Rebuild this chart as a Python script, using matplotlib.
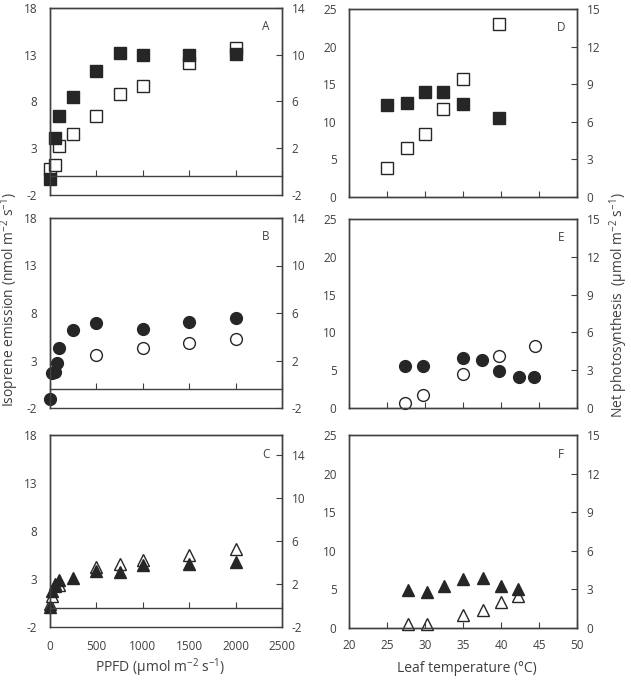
import matplotlib
matplotlib.use('Agg')
import matplotlib.pyplot as plt

plt.rcParams['font.family'] = ['Open Sans', 'DejaVu Sans']
plt.rcParams['mathtext.fontset'] = 'custom'
plt.rcParams['mathtext.rm'] = 'Open Sans'
plt.rcParams['mathtext.it'] = 'Open Sans:italic'
plt.rcParams['axes.unicode_minus'] = False
plt.rcParams['font.size'] = 8.5

# light response (PPFD), filled = isoprene (left axis), open = photosynthesis (right axis)
a_iso_x = [0, 50, 100, 250, 500, 750, 1000, 1500, 2000]
a_iso_y = [-0.3, 4.1, 6.5, 8.5, 11.3, 13.2, 13.0, 13.0, 13.1]
a_ps_x = [0, 50, 100, 250, 500, 750, 1000, 1500, 2000]
a_ps_y = [0.25, 0.55, 2.2, 3.2, 4.8, 6.6, 7.3, 9.3, 10.6]

b_iso_x = [0, 25, 50, 75, 100, 250, 500, 1000, 1500, 2000]
b_iso_y = [-1.1, 1.7, 1.8, 2.7, 4.3, 6.2, 6.95, 6.3, 7.05, 7.45]
b_ps_x = [500, 1000, 1500, 2000]
b_ps_y = [2.45, 3.05, 3.5, 3.8]

c_iso_x = [0, 25, 50, 100, 250, 500, 750, 1000, 1500, 2000]
c_iso_y = [0.05, 1.7, 2.5, 2.9, 3.1, 3.8, 3.75, 4.5, 4.6, 4.8]
c_ps_x = [0, 25, 50, 100, 500, 750, 1000, 1500, 2000]
c_ps_y = [0.15, 0.85, 1.8, 1.9, 3.6, 3.9, 4.25, 4.7, 5.25]

# temperature response
d_iso_x = [25, 27.6, 30, 32.4, 35, 39.7]
d_iso_y = [12.3, 12.5, 14.0, 14.0, 12.4, 10.5]
d_ps_x = [25, 27.6, 30, 32.4, 35, 39.7]
d_ps_y = [2.35, 3.9, 5.05, 7.05, 9.4, 13.8]

e_iso_x = [27.4, 29.8, 35, 37.5, 39.8, 42.4, 44.4]
e_iso_y = [5.6, 5.6, 6.55, 6.4, 4.95, 4.05, 4.05]
e_ps_x = [27.4, 29.8, 35, 39.8, 44.5]
e_ps_y = [0.42, 1.03, 2.67, 4.1, 4.95]

f_iso_x = [27.8, 30.3, 32.5, 35, 37.6, 40, 42.3]
f_iso_y = [4.95, 4.6, 5.5, 6.4, 6.45, 5.5, 5.1]
f_ps_x = [27.8, 30.3, 35, 37.6, 40, 42.3]
f_ps_y = [0.34, 0.34, 0.98, 1.42, 2.02, 2.5]

GREY = '#404040'
INK = '#262626'

fig = plt.figure(figsize=(6.31, 6.92), dpi=100)
W, H = 631.0, 692.0


def box(x0, x1, y0, y1):
    return [x0 / W, (H - y1) / H, (x1 - x0) / W, (y1 - y0) / H]


def panel(rect, letter, ix, iy, px, py, marker, left_panel, show_x):
    ax = fig.add_axes(rect)
    ax2 = ax.twinx()
    ax.set_zorder(ax2.get_zorder() + 1)
    ax.patch.set_visible(False)
    for a in (ax, ax2):
        for s in a.spines.values():
            s.set_color(GREY)
            s.set_linewidth(1.0)
    ms = {'s': 8, 'o': 8.5, '^': 9}[marker]
    ax.plot(ix, iy, marker, ls='none', ms=ms, mfc=INK, mec=INK, mew=1.0,
            clip_on=False)
    ax2.plot(px, py, marker, ls='none', ms=ms, mfc='white', mec=INK,
             mew=1.0, clip_on=False)
    if left_panel:
        ax.set_xlim(0, 2500)
        ax.set_xticks([0, 500, 1000, 1500, 2000, 2500])
        ax.set_ylim(-2, 18)
        ax.set_yticks([-2, 3, 8, 13, 18])
        if letter == 'C':
            ax2.set_ylim(-2, 15.9)
        else:
            ax2.set_ylim(-2, 14)
        ax2.set_yticks([-2, 2, 6, 10, 14])
        ax.spines['bottom'].set_position(('data', 0))
        ax.tick_params(axis='x', direction='in', length=4, width=0.8,
                       color=GREY, labelbottom=False)
        ax2.xaxis.set_visible(show_x)
        ax2.tick_params(axis='x', length=0, pad=9, colors=GREY)
    else:
        ax.set_xlim(20, 50)
        ax.set_xticks([20, 25, 30, 35, 40, 45, 50])
        ax.set_ylim(0, 25)
        ax.set_yticks([0, 5, 10, 15, 20, 25])
        ax2.set_ylim(0, 15)
        ax2.set_yticks([0, 3, 6, 9, 12, 15])
        ax.tick_params(axis='x', direction='in', length=4, width=0.8,
                       color=GREY, labelcolor=GREY, pad=8,
                       labelbottom=show_x)
    ax.tick_params(axis='y', length=0, pad=9, labelcolor=GREY)
    ax2.tick_params(axis='y', direction='in', length=4, width=0.8,
                    color=GREY, labelcolor=GREY, pad=7)
    ax.text(0.93, 0.9, letter, transform=ax.transAxes, ha='center',
            va='center', color=GREY, fontsize=8.5)
    return ax, ax2


panel(box(50, 282, 8, 195), 'A', a_iso_x, a_iso_y, a_ps_x, a_ps_y,
      's', True, False)
panel(box(50, 282, 218, 408), 'B', b_iso_x, b_iso_y, b_ps_x, b_ps_y,
      'o', True, False)
panel(box(50, 282, 435, 627), 'C', c_iso_x, c_iso_y, c_ps_x, c_ps_y,
      '^', True, True)
panel(box(349, 577, 9, 197), 'D', d_iso_x, d_iso_y, d_ps_x, d_ps_y,
      's', False, False)
panel(box(349, 577, 219, 408), 'E', e_iso_x, e_iso_y, e_ps_x, e_ps_y,
      'o', False, False)
panel(box(349, 577, 435, 628), 'F', f_iso_x, f_iso_y, f_ps_x, f_ps_y,
      '^', False, True)

fig.text(10 / W, 1 - 300 / H, r'Isoprene emission (nmol m$^{-2}$ s$^{-1}$)',
         rotation=90, ha='center', va='center', color=GREY, fontsize=10)
fig.text(619 / W, 1 - 305 / H,
         r'Net photosynthesis  (µmol m$^{-2}$ s$^{-1}$)',
         rotation=90, ha='center', va='center', color=GREY, fontsize=10)
fig.text(160 / W, 1 - 668 / H, r'PPFD (µmol m$^{-2}$ s$^{-1}$)',
         ha='center', va='center', color=GREY, fontsize=10)
fig.text(467 / W, 1 - 668 / H, 'Leaf temperature (°C)',
         ha='center', va='center', color=GREY, fontsize=10)

fig.savefig('out.png', dpi=100, facecolor='white')
